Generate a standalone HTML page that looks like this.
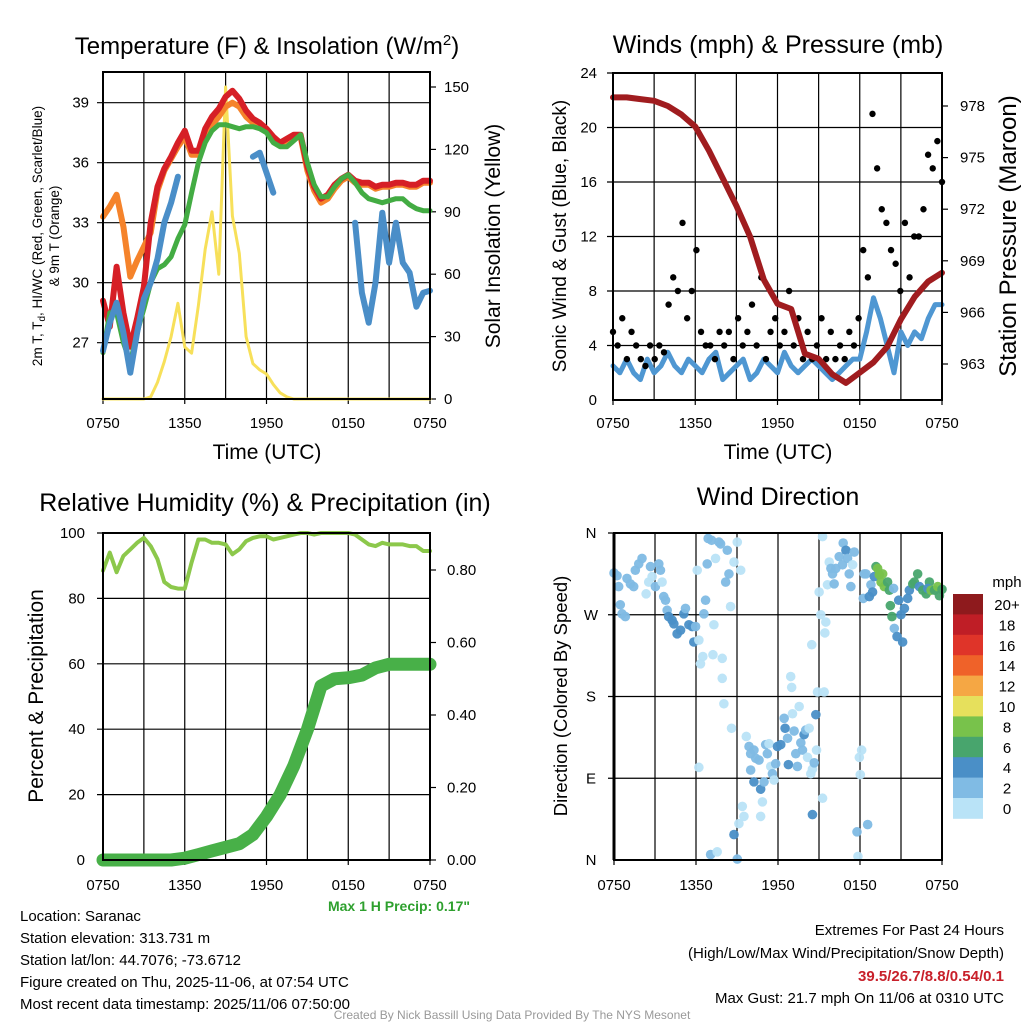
<!DOCTYPE html>
<html><head><meta charset="utf-8"><style>
body{margin:0;background:#fff;}
svg{display:block;font-family:"Liberation Sans",sans-serif;}
</style></head><body>
<svg id="c" width="1024" height="1024" viewBox="0 0 1024 1024" xmlns="http://www.w3.org/2000/svg"></svg>
<script>
// ---------- DATA ----------
const tempRed=[29.1,27.8,30.8,28.5,26.8,28.2,29.8,33.0,34.8,35.7,36.3,37.0,37.6,36.6,36.6,37.7,38.3,38.7,39.3,39.6,39.2,38.6,38.2,38.0,37.7,37.3,37.0,37.2,37.4,37.4,35.8,34.8,34.2,34.4,34.9,35.2,35.4,35.1,35.0,35.0,34.8,34.9,34.9,35.0,35.0,34.9,34.9,35.1,35.1];
const tempOrange=[33.3,33.8,34.4,32.8,30.3,31.1,31.8,32.5,34.6,35.6,36.2,36.8,37.3,36.4,36.4,37.4,37.9,38.3,38.8,39.0,38.8,38.3,38.0,37.9,37.6,37.2,36.9,37.1,37.3,37.3,35.6,34.6,34.0,34.2,34.7,35.1,35.3,35.0,34.9,34.9,34.7,34.8,34.8,34.9,34.9,34.8,34.8,35.0,35.0];
const tempGreen=[26.5,28.5,28.5,27.0,26.0,27.5,28.7,30.0,30.7,30.9,31.3,32.2,32.9,34.5,36.0,37.0,37.6,37.9,37.9,37.8,37.7,37.8,37.8,37.7,37.5,37.0,36.8,36.8,37.1,37.4,36.0,34.9,34.3,34.3,34.8,35.2,35.4,35.0,34.5,34.2,34.1,34.0,34.1,34.2,34.2,33.9,33.7,33.6,33.6];
const tempBlue=[26.6,28.0,29.0,27.5,25.5,27.5,29.2,30.0,31.2,33.0,34.0,35.3,null,null,null,null,null,null,null,null,null,null,36.3,36.5,35.5,34.5,null,35.0,null,null,null,null,null,null,null,null,null,33.0,29.5,28.0,30.0,33.5,31.0,33.0,31.0,30.5,28.8,29.5,29.6];
const insolation=[0,0,0,0,0,0,0,1,8,18,30,46,25,22,45,72,90,60,150,88,70,30,17,14,12,7,3,1,0,0,0,0,0,0,0,0,0,0,0,0,0,0,0,0,0,0,0,0,0];
const pressure=[978.5,978.5,978.4,978.3,978.0,977.5,976.8,975.4,973.8,972.2,970.4,967.9,966.5,966.2,963.6,963.3,962.4,961.9,962.5,963.1,964.0,965.6,966.9,967.8,968.3];
const windSpd=[2.5,2,3,2,1.5,3,2,2.5,3.5,2.5,2,3,2.5,2,3,3.5,1.5,2,2.5,3,1.5,2,3,2.5,2,3.5,2.5,2,2.5,3,2.5,2,1.5,2,2.5,3,3,5,7.5,6,4,2,5,4,5,4.5,6,7,7];
const gusts=[5,4,6,3,5,4,3,2.5,4,3,4,3.5,7,9,8,13,6,8,11,5,4,4,3,5,4,5,3,6,4,5,7,4,9,3,5,6,4,5,8,4,6,3,5,3,4,6,3,5,3,4,3,5,4,6,11,9,21,17,14,13,11,10,8,13,9,12,12,14,18,17,19,16];
const rh=[88.5,94,88,93,95,97,98.5,96,92,85,83.5,83,83,91,98,98,97,97,96.5,93.5,95,97.5,98.5,99,99,98,98.5,99,99.5,100,100,99.5,100,100,100,100,100,99.5,98,96.5,96,97,96.5,96.5,96.5,96,96,94.5,94.5];
const precip=[0,0,0,0,0,0,0.005,0.015,0.025,0.035,0.045,0.07,0.12,0.18,0.26,0.36,0.48,0.50,0.503,0.51,0.53,0.54,0.54,0.54,0.54];
const wdHour=[0,0.22,0.34,0.46,0.59,0.83,0.95,1.2,1.44,1.56,1.81,2.05,2.35,2.54,2.67,2.79,3.03,3.28,3.4,3.52,3.64,3.77,3.89,4.0,4.25,4.38,4.62,4.87,5.11,5.23,5.48,5.72,5.84,5.97,6.21,6.33,6.5,6.09,6.58,6.7,6.82,6.89,7.14,7.24,7.31,7.43,7.68,7.8,7.92,7.92,8.04,8.17,8.29,8.41,8.53,8.6,8.78,9.02,9.27,6.21,7.07,7.55,8.78,9.02,9.14,9.39,9.51,9.68,9.88,10.0,10.24,10.37,10.61,10.0,10.24,10.73,10.86,10.73,10.98,11.1,11.22,11.34,11.47,11.59,11.71,11.83,11.96,12.2,12.45,12.52,12.7,12.93,13.0,12.76,13.06,13.18,13.3,13.42,13.55,13.67,13.79,13.91,14.03,14.16,14.28,14.4,14.52,14.65,14.77,14.82,14.52,15.26,14.47,14.89,15.13,15.38,15.43,15.5,15.01,15.26,15.62,15.75,15.87,15.99,16.11,16.23,16.48,16.72,16.77,16.97,17.09,17.21,17.33,17.46,17.58,17.78,17.85,17.95,18.02,18.12,18.24,18.31,18.44,18.56,18.68,18.8,18.92,19.05,19.17,19.29,19.41,19.54,19.66,19.78,20.02,20.15,20.22,20.34,20.46,20.51,20.71,20.83,21.0,21.12,21.25,21.49,21.61,21.86,21.98,22.22,22.35,22.59,22.84,23.08,22.96,23.2,23.45,23.69,23.81,24];
const wdDir=[316,313,301,281,271,268,310,304,301,319,326,332,293,306,323,312,301,326,319,306,290,286,275,268,264,260,249,253,271,277,259,257,240,257,242,216,224,319,271,286,326,354,352,226,259,332,350,348,222,200,172,306,341,315,279,145,328,350,319,102,6,9,28,1,40,59,48,136,125,117,121,112,110,99,86,78,64,48,86,127,117,128,103,95,88,106,125,127,156,145,134,202,190,105,161,142,117,103,169,129,121,138,143,113,145,95,100,107,160,121,50,68,237,185,270,185,250,262,295,356,303,328,321,315,304,321,334,325,349,341,332,315,301,325,339,31,4,113,94,121,288,315,315,39,290,303,295,312,323,321,314,306,315,301,306,297,280,268,299,255,246,286,270,240,277,288,297,304,306,315,301,297,293,306,299,297,297,301,291,298];
const wdSpd=[3,3,3,3,3,3,3,3,3,3,3,3,1,1,3,1,3,3,3,1,3,3,3,5,5,5,5,5,5,3,5,5,5,3,1,1,1,1,3,3,3,3,3,1,1,1,3,3,1,1,1,3,3,3,1,1,1,1,1,1,3,1,5,3,1,1,1,1,3,3,3,3,3,3,5,5,1,1,3,3,3,1,1,3,1,3,5,5,3,5,3,1,1,5,1,3,3,3,1,3,3,5,3,1,1,1,1,3,5,1,5,1,1,1,1,1,1,1,1,1,1,1,3,3,3,3,3,3,3,5,3,3,3,1,3,3,1,1,1,1,3,3,3,3,5,3,5,5,7,9,9,9,9,9,7,7,7,7,3,3,5,5,5,5,5,5,5,7,7,7,5,7,7,7,5,9,7,9,7,7,9];
const binLabels=["20+","18","16","14","12","10","8","6","4","2","0"];
const binColors=["#8e1a1d","#bf1e26","#df3429","#ef6229","#f5a744","#e6e05c","#78c24b","#48a56d","#4a8fc7","#80bbe4","#b9e3f7"];

// ---------- helpers ----------
const NS="http://www.w3.org/2000/svg";
const svg=document.getElementById('c');
function el(tag,attrs,parent){const e=document.createElementNS(NS,tag);for(const k in attrs)e.setAttribute(k,attrs[k]);(parent||svg).appendChild(e);return e;}
function txt(x,y,s,size,anchor,parent,extra){const t=el('text',Object.assign({x:x,y:y,'font-size':size,'text-anchor':anchor||'middle',fill:'#000'},extra||{}),parent);t.textContent=s;return t;}
function lin(d0,d1,r0,r1){return v=>r0+(v-d0)*(r1-r0)/(d1-d0);}
const xLabels=["0750","1350","1950","0150","0750"];

function frame(name){
  const g=el('g',{},svg);
  
  
  return g;
}
function grid(g,x0,x1,y0,y1,ys){
  for(let i=0;i<=8;i++){const x=x0+(x1-x0)*i/8;el('line',{x1:x,x2:x,y1:y0,y2:y1+(i%2==0?5:0),stroke:'#000','stroke-width':1.2},g);}
  ys.forEach(y=>el('line',{x1:x0-6,x2:x1,y1:y,y2:y,stroke:'#000','stroke-width':1.2},g));
}
function border(g,x0,x1,y0,y1){el('rect',{x:x0,y:y0,width:x1-x0,height:y1-y0,fill:'none',stroke:'#000','stroke-width':2},g);}
function xTicks(g,x0,x1,y){xLabels.forEach((l,i)=>{const t=txt(x0+(x1-x0)*i/4,y,l,15,'middle',g);});}
function path(g,xs,ys,stroke,w,name){
  let d='',pen=false;
  for(let i=0;i<xs.length;i++){if(ys[i]===null||isNaN(ys[i])){pen=false;continue;}d+=(pen?'L':'M')+xs[i].toFixed(1)+' '+ys[i].toFixed(1);pen=true;}
  const p=el('path',{d:d,fill:'none',stroke:stroke,'stroke-width':w,'stroke-linejoin':'round','stroke-linecap':'round'},g);
  
  
  return p;
}
const half=n=>Array.from({length:n},(_,i)=>i*24/(n-1));

// ---------- Panel 1 ----------
(function(){
  const X0=103,X1=430,Y0=72,Y1=399;
  const g=frame('temperature-panel');
  const xs=lin(0,24,X0,X1), yT=lin(39,27,102.7,342.7), yI=lin(0,150,399,87);
  grid(g,X0,X1,Y0,Y1,[39,36,33,30,27].map(yT));
  [39,36,33,30,27].forEach(v=>{const t=txt(89,yT(v)+5,String(v),15,'end',g);});
  [0,30,60,90,120,150].forEach(v=>{el('line',{x1:X1,x2:X1+6,y1:yI(v),y2:yI(v),stroke:'#000','stroke-width':1.2},g);const t=txt(444,yI(v)+5,String(v),15,'start',g);});
  const h=half(49);
  path(g,h.map(xs),insolation.map(yI),'#f7e05a',3,'insolation-line');
  path(g,h.map(xs),tempOrange.map(yT),'#f5832b',6,'9m-temp-line');
  path(g,h.map(xs),tempRed.map(yT),'#d61f26',6,'2m-temp-line');
  path(g,h.map(xs),tempGreen.map(yT),'#43ac43',5,'heat-index-line');
  path(g,h.map(xs),tempBlue.map(v=>v===null?null:yT(v)),'#4a8ec8',6,'dewpoint-line');
  border(g,X0,X1,Y0,Y1);
  xTicks(g,X0,X1,428);
  const t=txt(267,54,'Temperature (F) & Insolation (W/m',24,'middle',g);const s=el('tspan',{dy:-9,'font-size':15},t);s.textContent='2';const s2=el('tspan',{dy:9},t);s2.textContent=')';
  
  const a=txt(267,459,'Time (UTC)',21,'middle',g);
  const yl=txt(0,0,'2m T, T',13.5,'middle',g,{transform:'translate(42,236) rotate(-90)'});const sd=el('tspan',{dy:3,'font-size':10},yl);sd.textContent='d';const sr=el('tspan',{dy:-3},yl);sr.textContent=', HI/WC (Red, Green, Scarlet/Blue)';
  
  const yl2=txt(0,0,'& 9m T (Orange)',13.5,'middle',g,{transform:'translate(59,236) rotate(-90)'});
  const yr=txt(0,0,'Solar Insolation (Yellow)',21,'middle',g,{transform:'translate(500,236) rotate(-90)'});
})();

// ---------- Panel 2 ----------
(function(){
  const X0=613,X1=942,Y0=73,Y1=400;
  const g=frame('winds-panel');
  const xs=lin(0,24,X0,X1), yW=lin(0,24,400,73), yP=lin(978,963,106,364);
  grid(g,X0,X1,Y0,Y1,[24,20,16,12,8,4].map(yW));
  [0,4,8,12,16,20,24].forEach(v=>{const t=txt(597,yW(v)+5,String(v),15,'end',g);});
  [978,975,972,969,966,963].forEach(v=>{el('line',{x1:X1,x2:X1+6,y1:yP(v),y2:yP(v),stroke:'#000','stroke-width':1.2},g);const t=txt(960,yP(v)+5,String(v),15,'start',g);});
  path(g,half(49).map(xs),windSpd.map(yW),'#4f97d2',5,'wind-speed-line');
  const gh=half(gusts.length);
  gusts.forEach((v,i)=>{const c=el('circle',{cx:xs(gh[i]),cy:yW(v),r:3.2,fill:'#000'},g);});
  path(g,half(25).map(xs),pressure.map(yP),'#a01c1f',6,'pressure-line');
  border(g,X0,X1,Y0,Y1);
  xTicks(g,X0,X1,428);
  const t=txt(778,53,'Winds (mph) & Pressure (mb)',25,'middle',g);
  const a=txt(778,459,'Time (UTC)',21,'middle',g);
  const yl=txt(0,0,'Sonic Wind & Gust (Blue, Black)',19,'middle',g,{transform:'translate(566,236) rotate(-90)'});
  const yr=txt(0,0,'Station Pressure (Maroon)',24,'middle',g,{transform:'translate(1016,236) rotate(-90)'});
})();

// ---------- Panel 3 ----------
(function(){
  const X0=103,X1=430,Y0=533,Y1=860;
  const g=frame('humidity-panel');
  const xs=lin(0,24,X0,X1), yR=lin(0,100,860,533), yPr=lin(0,0.8,860,570);
  grid(g,X0,X1,Y0,Y1,[100,80,60,40,20].map(yR));
  [0,20,40,60,80,100].forEach(v=>{const t=txt(85,yR(v)+5,String(v),15,'end',g);});
  [0,0.2,0.4,0.6,0.8].forEach(v=>{el('line',{x1:X1,x2:X1+6,y1:yPr(v),y2:yPr(v),stroke:'#000','stroke-width':1.2},g);const t=txt(447,yPr(v)+5,v.toFixed(2),15,'start',g);});
  path(g,half(49).map(xs),rh.map(yR),'#8cc84b',4,'humidity-line');
  path(g,half(25).map(xs),precip.map(yPr),'#48b048',13,'precip-line');
  border(g,X0,X1,Y0,Y1);
  xTicks(g,X0,X1,890);
  const t=txt(265,511,'Relative Humidity (%) & Precipitation (in)',25,'middle',g);
  const yl=txt(0,0,'Percent & Precipitation',21,'middle',g,{transform:'translate(43,696) rotate(-90)'});
  const m=txt(470,911,'Max 1 H Precip: 0.17"',14,'end',g,{fill:'#2ea02e','font-weight':'bold'});
})();

// ---------- Panel 4 ----------
(function(){
  const X0=614,X1=942,Y0=533,Y1=860;
  const g=frame('wind-direction-panel');
  const xs=lin(0,24,X0,X1), yD=lin(360,0,533,860);
  grid(g,X0,X1,Y0,Y1,[360,270,180,90].map(yD));
  [["N",360],["W",270],["S",180],["E",90],["N",0]].forEach(p=>{const t=txt(591,yD(p[1])+5,p[0],15,'middle',g);});
  function color(s){const idx=Math.min(10,Math.floor(s/2));return binColors[10-idx];}
  wdHour.forEach((h,i)=>{const c=el('circle',{cx:xs(h),cy:yD(wdDir[i]),r:4.8,fill:color(wdSpd[i]),'fill-opacity':0.95},g);});
  border(g,X0,X1,Y0,Y1);
  el('line',{x1:X0,x2:X0,y1:Y0,y2:Y1,stroke:'#000','stroke-width':3},g);
  xTicks(g,X0,X1,890);
  const t=txt(778,505,'Wind Direction',25,'middle',g);
  const yl=txt(0,0,'Direction (Colored By Speed)',18.5,'middle',g,{transform:'translate(567,696) rotate(-90)'});
  const lg=el('g',{},g);
  binColors.forEach((c,i)=>{el('rect',{x:953,y:594+i*20.4,width:30,height:20.8,fill:c},lg);const l=txt(1007,594+i*20.4+16,binLabels[i],15,'middle',lg);});
  const u=txt(1007,587,'mph',15,'middle',lg);
})();

// ---------- footer text ----------
(function(){
  const g=el('g',{},svg);
  ["Location: Saranac","Station elevation: 313.731 m","Station lat/lon: 44.7076; -73.6712","Figure created on Thu, 2025-11-06, at 07:54 UTC","Most recent data timestamp: 2025/11/06 07:50:00"].forEach((s,i)=>{const t=txt(20,921+i*22,s,15,'start',g);});
  const r1=txt(1004,935,'Extremes For Past 24 Hours',15,'end',g);
  const r2=txt(1004,958,'(High/Low/Max Wind/Precipitation/Snow Depth)',15,'end',g);
  const r3=txt(1004,981,'39.5/26.7/8.8/0.54/0.1',15,'end',g,{fill:'#c8202a','font-weight':'bold'});
  const r4=txt(1004,1003,'Max Gust: 21.7 mph On 11/06 at 0310 UTC',15,'end',g);
  const c=txt(512,1019,'Created By Nick Bassill Using Data Provided By The NYS Mesonet',12,'middle',g,{fill:'#999'});
})();
</script>
</body></html>
